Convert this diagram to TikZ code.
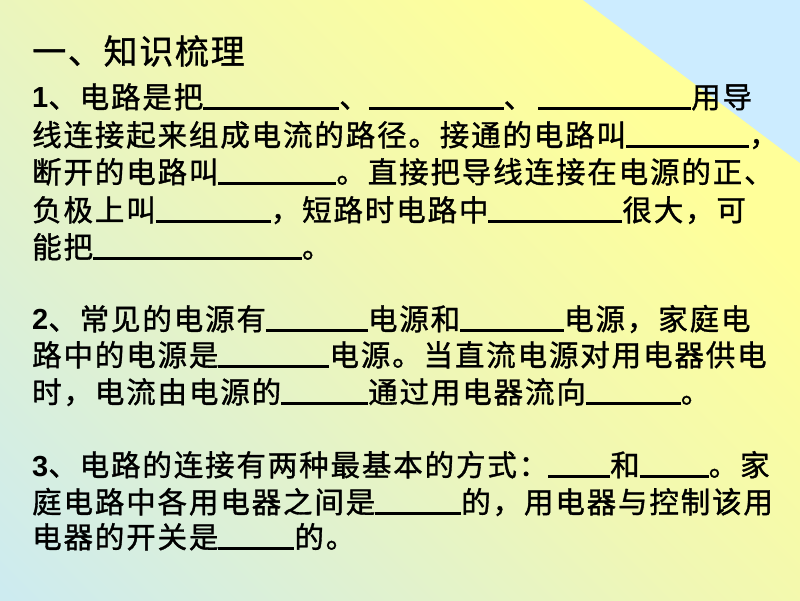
\documentclass[tikz,border=0pt]{standalone}
\usepackage{fontspec}
\usepackage{xcolor}
\usetikzlibrary{positioning}
\newfontfamily\cjkfont{Noto Sans CJK SC}[LetterSpace=6.3,FakeBold=1.2]
\newfontfamily\cjktitle{Noto Sans CJK SC}[LetterSpace=5.0,FakeBold=1.0]
\newfontfamily\numfont{Liberation Sans}
\definecolor{bgblue}{RGB}{205,235,240}
\definecolor{bgmid}{RGB}{240,247,180}
\definecolor{bgyellow}{RGB}{255,255,153}
\definecolor{cornerblue}{RGB}{204,236,255}
\pgfdeclareverticalshading{slidebg}{100bp}{color(0bp)=(bgblue); color(15bp)=(bgblue); color(50bp)=(bgmid); color(72bp)=(bgyellow); color(100bp)=(bgyellow)}
\newcommand{\fillblank}[1]{\rule[-2pt]{#1pt}{2.8pt}}
\newcommand{\itemno}[1]{{\numfont\bfseries\fontsize{29pt}{30pt}\selectfont #1}}
\begin{document}
\begin{tikzpicture}[x=1pt,y=1pt]
    \tikzset{
        textline/.style={anchor=base west, inner sep=0pt, font=\cjkfont\fontsize{29.5pt}{31pt}\selectfont},
        heading/.style={anchor=base west, inner sep=0pt, font=\cjktitle\fontsize{34pt}{36pt}\selectfont},
    }
    \useasboundingbox (0,0) rectangle (800,600);
    \shade[shading=slidebg, shading angle=-45] (0,0) rectangle (800,600);
    \fill[cornerblue] (583,600) -- (800,600) -- (800,437) -- cycle;

    \node[heading] (title) at (32,536) {一、知识梳理};

    \node[textline] (s1a) at (32,492) {\itemno{1}、电路是把\fillblank{136}、\fillblank{135}、\hspace{5pt}\fillblank{153}用导};
    \node[textline, below=38pt of s1a.base west, anchor=base west] (s1b) {线连接起来组成电流的路径。接通的电路叫\fillblank{123}，};
    \node[textline, below=37pt of s1b.base west, anchor=base west] (s1c) {断开的电路叫\fillblank{118}。直接把导线连接在电源的正、};
    \node[textline, below=38pt of s1c.base west, anchor=base west] (s1d) {负极上叫\fillblank{115}，短路时电路中\fillblank{134}很大，可};
    \node[textline, below=37pt of s1d.base west, anchor=base west] (s1e) {能把\fillblank{209}。};

    \node[textline] (s2a) at (32,270) {\itemno{2}、常见的电源有\fillblank{102}电源和\fillblank{104}电源，家庭电};
    \node[textline, below=36pt of s2a.base west, anchor=base west] (s2b) {路中的电源是\fillblank{111}电源。当直流电源对用电器供电};
    \node[textline, below=37pt of s2b.base west, anchor=base west] (s2c) {时，电流由电源的\fillblank{87}通过用电器流向\fillblank{95}。};

    \node[textline] (s3a) at (32,124) {\itemno{3}、电路的连接有两种最基本的方式：\fillblank{62}和\fillblank{69}。家};
    \node[textline, below=37pt of s3a.base west, anchor=base west] (s3b) {庭电路中各用电器之间是\fillblank{86}的，用电器与控制该用};
    \node[textline, below=35pt of s3b.base west, anchor=base west] (s3c) {电器的开关是\fillblank{76}的。};
\end{tikzpicture}
\end{document}
